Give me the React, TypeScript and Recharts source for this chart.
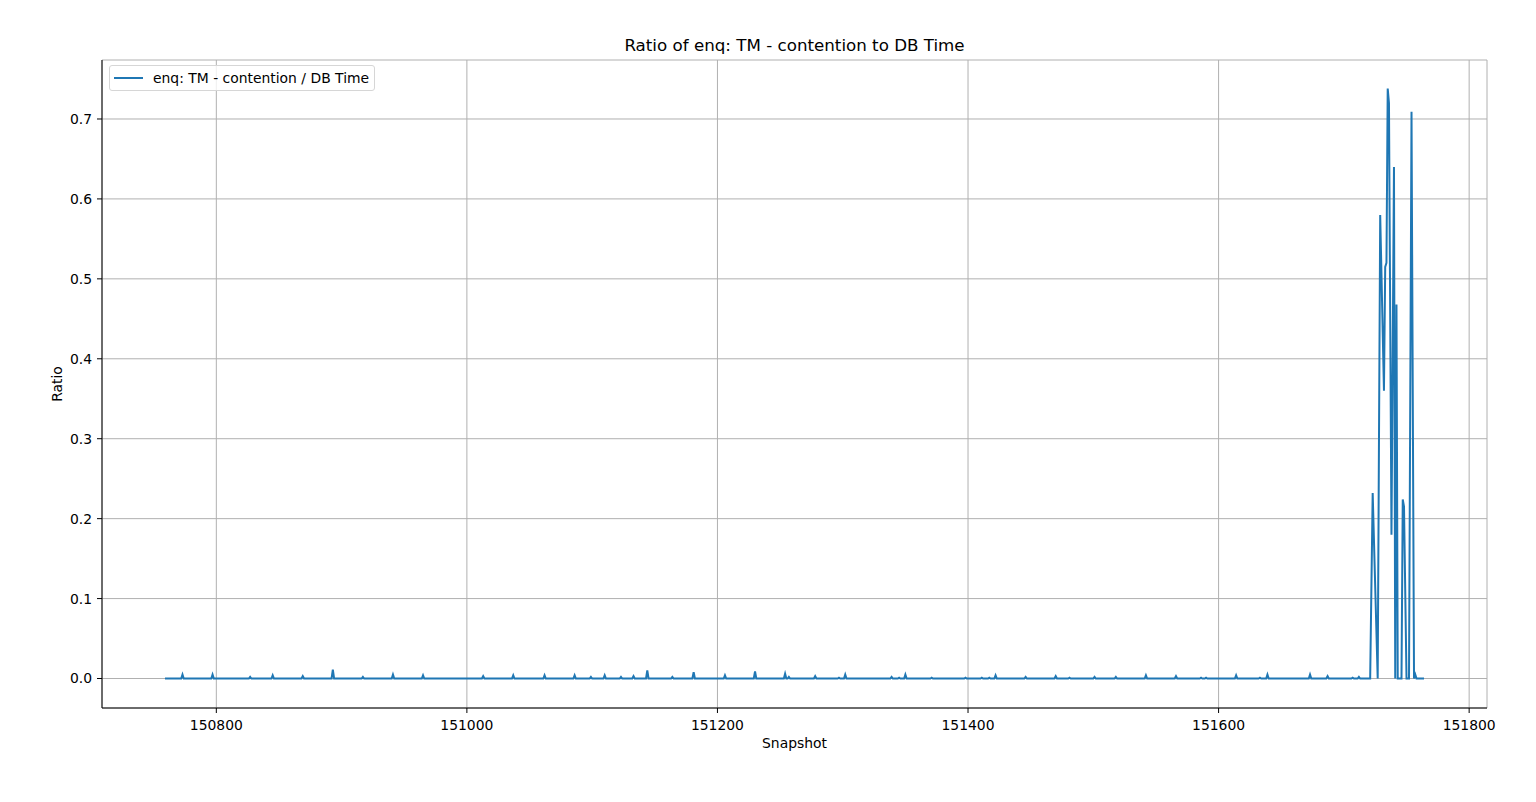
import React from 'react';
import { LineChart, Line, XAxis, YAxis, CartesianGrid } from 'recharts';

// Snapshot ids and the ratio read at each one (baseline is 0 between spikes)
const snapshots = [
  150759,
  150772, 150773, 150774,
  150796, 150797, 150798,
  150826, 150827, 150828,
  150844, 150845, 150846,
  150868, 150869, 150870,
  150892, 150893, 150894,
  150916, 150917, 150918,
  150940, 150941, 150942,
  150964, 150965, 150966,
  151012, 151013, 151014,
  151036, 151037, 151038,
  151061, 151062, 151063,
  151085, 151086, 151087,
  151098, 151099, 151100,
  151109, 151110, 151111,
  151122, 151123, 151124,
  151132, 151133, 151134,
  151143, 151144, 151145,
  151163, 151164, 151165,
  151180, 151181, 151182,
  151205, 151206, 151207,
  151229, 151230, 151231,
  151253, 151254, 151255,
  151256, 151257, 151258,
  151277, 151278, 151279,
  151296, 151297, 151298,
  151301, 151302, 151303,
  151338, 151339, 151340,
  151344, 151345, 151346,
  151349, 151350, 151351,
  151370, 151371, 151372,
  151397, 151398, 151399,
  151410, 151411, 151412,
  151416, 151417, 151418,
  151421, 151422, 151423,
  151445, 151446, 151447,
  151469, 151470, 151471,
  151480, 151481, 151482,
  151500, 151501, 151502,
  151517, 151518, 151519,
  151541, 151542, 151543,
  151565, 151566, 151567,
  151585, 151586, 151587,
  151589, 151590, 151591,
  151613, 151614, 151615,
  151632, 151633, 151634,
  151638, 151639, 151640,
  151672, 151673, 151674,
  151686, 151687, 151688,
  151706, 151707, 151708,
  151711, 151712, 151713,
  151721, 151723, 151727, 151729, 151732, 151733, 151734, 151735, 151736, 151738, 151740, 151741, 151742, 151743,
  151746, 151747, 151748, 151750,
  151752, 151754, 151756, 151757, 151758,
  151764,
];

const ratios = [
  0,
  0, 0.005, 0,
  0, 0.005, 0,
  0, 0.002, 0,
  0, 0.004, 0,
  0, 0.003, 0,
  0, 0.011, 0,
  0, 0.002, 0,
  0, 0.005, 0,
  0, 0.004, 0,
  0, 0.003, 0,
  0, 0.004, 0,
  0, 0.004, 0,
  0, 0.004, 0,
  0, 0.002, 0,
  0, 0.004, 0,
  0, 0.002, 0,
  0, 0.003, 0,
  0, 0.01, 0,
  0, 0.002, 0,
  0, 0.008, 0,
  0, 0.004, 0,
  0, 0.009, 0,
  0, 0.006, 0,
  0, 0.002, 0,
  0, 0.003, 0,
  0, 0.001, 0,
  0, 0.005, 0,
  0, 0.002, 0,
  0, 0.001, 0,
  0, 0.005, 0,
  0, 0.001, 0,
  0, 0.001, 0,
  0, 0.001, 0,
  0, 0.001, 0,
  0, 0.004, 0,
  0, 0.002, 0,
  0, 0.003, 0,
  0, 0.001, 0,
  0, 0.002, 0,
  0, 0.002, 0,
  0, 0.004, 0,
  0, 0.003, 0,
  0, 0.001, 0,
  0, 0.001, 0,
  0, 0.004, 0,
  0, 0.001, 0,
  0, 0.005, 0,
  0, 0.005, 0,
  0, 0.003, 0,
  0, 0.001, 0,
  0, 0.002, 0,
  0, 0.232, 0, 0.58, 0.36, 0.515, 0.52, 0.738, 0.72, 0.18, 0.64, 0, 0.468, 0,
  0, 0.224, 0.215, 0,
  0, 0.709, 0, 0.005, 0,
  0,
];

const xTicks = [150800, 151000, 151200, 151400, 151600, 151800];
const yTicks = [0, 0.1, 0.2, 0.3, 0.4, 0.5, 0.6, 0.7];

const seriesName = 'enq: TM - contention / DB Time';
const font = '"DejaVu Sans", sans-serif';

const data = snapshots.map((s, i) => ({ snapshot: s, ratio: ratios[i] }));

const xDomain = [150708.75, 151814.25];
const yDomain = [-0.0369, 0.7738];

const LegendBox = () => (
  <div
    style={{
      position: 'absolute',
      left: 109,
      top: 65,
      display: 'flex',
      alignItems: 'center',
      border: '1px solid #d6d6d6',
      borderRadius: 3,
      background: 'rgba(255,255,255,0.8)',
      padding: '4px 5px 4px 4px',
      fontFamily: font,
      fontSize: 13.9,
      whiteSpace: 'nowrap',
    }}
  >
    <span style={{ display: 'inline-block', width: 29, height: 2, background: '#1f77b4', marginRight: 10 }} />
    <span>{seriesName}</span>
  </div>
);

export default function App() {
  return (
    <div style={{ position: 'absolute', left: 0, top: 0, width: 1536, height: 802, background: '#fff' }}>
      <div
        style={{
          position: 'absolute',
          left: 102,
          width: 1385,
          top: 35,
          textAlign: 'center',
          fontFamily: font,
          fontSize: 16.7,
          color: '#000',
        }}
      >
        Ratio of enq: TM - contention to DB Time
      </div>
      <div
        style={{
          position: 'absolute',
          left: 102,
          width: 1385,
          top: 735,
          textAlign: 'center',
          fontFamily: font,
          fontSize: 13.9,
        }}
      >
        Snapshot
      </div>
      <div
        style={{
          position: 'absolute',
          left: 57,
          top: 384,
          transform: 'translate(-50%, -50%) rotate(-90deg)',
          fontFamily: font,
          fontSize: 13.9,
        }}
      >
        Ratio
      </div>
      <LineChart
        width={1536}
        height={802}
        data={data}
        margin={{ top: 60, right: 49, left: 42, bottom: 54 }}
        style={{ position: 'absolute', left: 0, top: 0 }}
      >
        <CartesianGrid stroke="#b0b0b0" strokeWidth={1} />
        <XAxis
          dataKey="snapshot"
          type="number"
          domain={xDomain}
          ticks={xTicks}
          allowDataOverflow
          height={40}
          tickSize={5}
          tickMargin={7}
          tick={{ fill: '#000', fontSize: 13.9, fontFamily: font }}
          tickLine={{ stroke: '#000' }}
          axisLine={{ stroke: '#000' }}
        />
        <XAxis
          xAxisId="top"
          orientation="top"
          dataKey="snapshot"
          type="number"
          domain={xDomain}
          allowDataOverflow
          height={0}
          tick={false}
          tickLine={false}
          axisLine={{ stroke: '#000' }}
        />
        <YAxis
          type="number"
          domain={yDomain}
          ticks={yTicks}
          allowDataOverflow
          width={60}
          tickSize={5}
          tickMargin={5}
          tickFormatter={(v: number) => v.toFixed(1)}
          tick={{ fill: '#000', fontSize: 13.9, fontFamily: font }}
          tickLine={{ stroke: '#000' }}
          axisLine={{ stroke: '#000' }}
        />
        <YAxis
          yAxisId="right"
          orientation="right"
          type="number"
          domain={yDomain}
          allowDataOverflow
          width={0}
          tick={false}
          tickLine={false}
          axisLine={{ stroke: '#000' }}
        />
        <Line
          type="linear"
          dataKey="ratio"
          name={seriesName}
          stroke="#1f77b4"
          strokeWidth={2}
          dot={false}
          isAnimationActive={false}
        />
      </LineChart>
      <LegendBox />
    </div>
  );
}
